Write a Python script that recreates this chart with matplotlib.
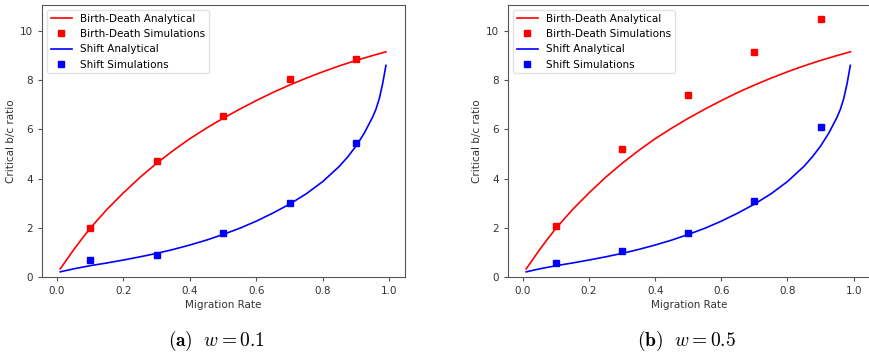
import matplotlib
matplotlib.use("Agg")
import matplotlib.pyplot as plt

plt.rcParams['mathtext.fontset'] = 'cm'

# analytical curves
x_bd = [0.01, 0.025, 0.05, 0.075, 0.1, 0.15, 0.2, 0.25, 0.3, 0.35, 0.4, 0.45, 0.5,
        0.55, 0.6, 0.65, 0.7, 0.75, 0.8, 0.85, 0.9, 0.95, 0.99]
bd_analytical = [0.33, 0.62, 1.1, 1.55, 1.98, 2.74, 3.42, 4.05, 4.62, 5.14, 5.62, 6.05, 6.45,
                 6.82, 7.17, 7.5, 7.8, 8.08, 8.34, 8.58, 8.8, 9.0, 9.15]
x_shift = [0.01, 0.05, 0.1, 0.15, 0.2, 0.25, 0.3, 0.35, 0.4, 0.45, 0.5, 0.55, 0.6, 0.65,
           0.7, 0.75, 0.8, 0.85, 0.875, 0.9, 0.925, 0.95, 0.96, 0.97, 0.98, 0.99]
shift_analytical = [0.21, 0.33, 0.46, 0.57, 0.69, 0.82, 0.96, 1.12, 1.3, 1.5, 1.73, 1.98, 2.27,
                    2.6, 2.96, 3.38, 3.88, 4.5, 4.88, 5.32, 5.85, 6.5, 6.82, 7.25, 7.85, 8.6]

x_sim = [0.1, 0.3, 0.5, 0.7, 0.9]
bd_sim_a = [2.0, 4.7, 6.55, 8.05, 8.85]
shift_sim_a = [0.7, 0.88, 1.8, 3.0, 5.45]
bd_sim_b = [2.07, 5.2, 7.4, 9.15, 10.5]
shift_sim_b = [0.55, 1.05, 1.8, 3.07, 6.1]

captions = [r"$\mathbf{(a)}\ \ w=0.1$", r"$\mathbf{(b)}\ \ w=0.5$"]

fig = plt.figure(figsize=(8.69, 3.55), dpi=100)
ax1 = fig.add_axes([0.0483, 0.2197, 0.418, 0.766])
ax2 = fig.add_axes([0.5846, 0.2197, 0.416, 0.766])

for ax, bds, shs in [(ax1, bd_sim_a, shift_sim_a), (ax2, bd_sim_b, shift_sim_b)]:
    ax.plot(x_bd, bd_analytical, color='red', lw=1.2, label='Birth-Death Analytical')
    ax.plot(x_sim, bds, 's', color='red', ms=4.5, label='Birth-Death Simulations')
    ax.plot(x_shift, shift_analytical, color='blue', lw=1.2, label='Shift Analytical')
    ax.plot(x_sim, shs, 's', color='blue', ms=4.5, label='Shift Simulations')
    ax.set_xlim(-0.045, 1.048)
    ax.set_ylim(0, 11.05)
    ax.set_xticks([0.0, 0.2, 0.4, 0.6, 0.8, 1.0])
    ax.set_yticks([0, 2, 4, 6, 8, 10])
    ax.tick_params(labelsize=7.5, length=3, color='#555555', labelcolor='#333333')
    for s in ax.spines.values():
        s.set_color('#555555')
        s.set_linewidth(0.8)
    ax.set_xlabel('Migration Rate', fontsize=7.5, color='#333333', labelpad=3)
    ax.set_ylabel('Critical b/c ratio', fontsize=7.5, color='#333333', labelpad=3)
    ax.legend(loc='upper left', fontsize=7.5, frameon=True, handlelength=2.0,
              labelspacing=0.5, borderpad=0.35, edgecolor='#dddddd')

fig.text(217 / 869, 1 - 341 / 355, captions[0], ha='center', va='center', fontsize=14)
fig.text(686 / 869, 1 - 341 / 355, captions[1], ha='center', va='center', fontsize=14)

fig.savefig('out.png', dpi=100)
